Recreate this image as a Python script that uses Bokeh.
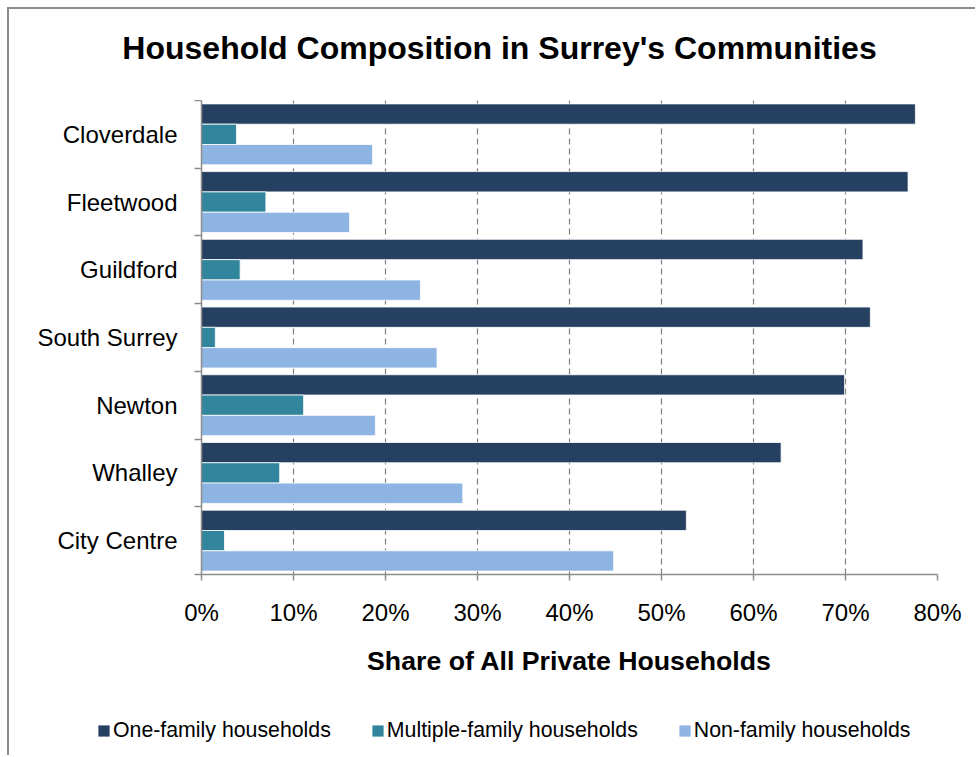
from bokeh.plotting import figure
from bokeh.layouts import column
from bokeh.models import (ColumnDataSource, Range1d, FixedTicker, PrintfTickFormatter,
                          Legend, LegendItem, Label)
from bokeh.embed import file_html
from bokeh.resources import INLINE

# ---- data ----
title_text = "Household Composition in Surrey's Communities"
x_axis_title = "Share of All Private Households"
categories = ["Cloverdale", "Fleetwood", "Guildford", "South Surrey",
              "Newton", "Whalley", "City Centre"]
one_family = [77.6, 76.8, 71.9, 72.7, 69.9, 63.0, 52.7]
multiple_family = [3.8, 7.0, 4.2, 1.5, 11.1, 8.5, 2.5]
non_family = [18.6, 16.1, 23.8, 25.6, 18.9, 28.4, 44.8]
series_names = ["One-family households", "Multiple-family households", "Non-family households"]
series_colors = ["#254061", "#31859C", "#8EB4E3"]
x_ticks = [0, 10, 20, 30, 40, 50, 60, 70, 80]

FONT = "Liberation Sans"
n = len(categories)
centers = [n - i - 0.5 for i in range(n)]

src = ColumnDataSource(dict(
    cat=categories,
    y_one=[c + 0.3 for c in centers],
    y_multi=[c for c in centers],
    y_non=[c - 0.3 for c in centers],
    one=one_family, multi=multiple_family, non=non_family,
))
cols = [("y_one", "one"), ("y_multi", "multi"), ("y_non", "non")]

W = 966          # content width (page origin of content = (9, 9))
TH = 91          # title strip height
PH = 589         # main plot height
LH = 66          # legend strip height

# ---------- title strip ----------
t = figure(width=W, height=TH, output_backend="svg", toolbar_location=None,
           x_range=Range1d(0, W), y_range=Range1d(TH, 0),
           min_border=0, x_axis_type=None, y_axis_type=None, frame_align=False)
t.outline_line_color = None
t.xgrid.grid_line_color = None
t.ygrid.grid_line_color = None
t.add_layout(Label(x=490, y=38.5, text=title_text, text_align="center",
                   text_baseline="alphabetic", text_font=FONT, text_font_size="32px",
                   text_font_style="bold", text_color="black"))

# ---------- main plot ----------
p = figure(width=W, height=PH, output_backend="svg", toolbar_location=None,
           x_range=Range1d(0, 80), y_range=Range1d(0, n),
           min_border_left=192, min_border_right=38, min_border_top=0,
           min_border_bottom=115, frame_align=False)
p.outline_line_color = None

renderers = [p.hbar(y=yc, right=xc, left=0, height=0.3, source=src,
                    fill_color=c, line_color="white", line_width=0.8)
             for (yc, xc), c in zip(cols, series_colors)]

# x axis
xa = p.xaxis[0]
xa.ticker = FixedTicker(ticks=x_ticks, minor_ticks=[])
xa.formatter = PrintfTickFormatter(format="%d%%")
xa.major_label_text_font = FONT
xa.major_label_text_font_size = "24px"
xa.major_label_text_color = "black"
xa.major_label_standoff = 18
xa.major_tick_out = 6
xa.major_tick_in = 0
xa.minor_tick_out = 0
xa.axis_line_color = "#8c8c8c"
xa.axis_line_width = 1.5
xa.major_tick_line_color = "#8c8c8c"
xa.major_tick_line_width = 1.5
xa.axis_label = x_axis_title
xa.axis_label_text_font = FONT
xa.axis_label_text_font_size = "26.7px"
xa.axis_label_text_font_style = "bold"
xa.axis_label_text_color = "black"
xa.axis_label_standoff = 17

# y axis: labels at band centres, ticks at band boundaries
ya = p.yaxis[0]
ya.ticker = FixedTicker(ticks=centers, minor_ticks=list(range(n + 1)))
ya.major_label_overrides = {c: name for c, name in zip(centers, categories)}
ya.major_label_text_font = FONT
ya.major_label_text_font_size = "24px"
ya.major_label_text_color = "black"
ya.major_label_standoff = 17
ya.major_tick_out = 0
ya.major_tick_in = 0
ya.minor_tick_out = 7
ya.minor_tick_in = 0
ya.minor_tick_line_color = "#8c8c8c"
ya.minor_tick_line_width = 1.5
ya.axis_line_color = "#8c8c8c"
ya.axis_line_width = 1.5

# grid
p.ygrid.grid_line_color = None
p.xgrid.grid_line_color = "#7f7f7f"
p.xgrid.grid_line_dash = "6 4"
p.xgrid.grid_line_width = 1.2

# ---------- legend strip ----------
# same series renderers (same data), kept far outside this strip's visible ranges
q = figure(width=W, height=LH, output_backend="svg", toolbar_location=None,
           x_range=Range1d(-5000 - W, -5000), y_range=Range1d(-5000 - LH, -5000),
           min_border=0, x_axis_type=None, y_axis_type=None, frame_align=False)
q.outline_line_color = None
q.xgrid.grid_line_color = None
q.ygrid.grid_line_color = None
lr = [q.hbar(y=yc, right=xc, left=0, height=0.3, source=src,
             fill_color=c, line_color="white", line_width=0.8)
      for (yc, xc), c in zip(cols, series_colors)]
legend = Legend(items=[LegendItem(label=nm, renderers=[r], index=0)
                       for nm, r in zip(series_names, lr)],
                orientation="horizontal", location=(87, 12))
legend.label_text_font = FONT
legend.label_text_font_size = "21.3px"
legend.label_text_color = "black"
legend.glyph_width = 15
legend.glyph_height = 15
legend.label_standoff = 2
legend.spacing = 39
legend.padding = 0
legend.margin = 0
legend.border_line_alpha = 0
legend.background_fill_alpha = 0
q.add_layout(legend, "center")

layout = column(t, p, q, spacing=0)
layout.styles = {"margin-left": "7px", "margin-top": "7px",
                 "border-left": "2px solid #8c8c8c", "border-top": "2px solid #8c8c8c"}

open("out.html", "w").write(file_html(layout, INLINE))
